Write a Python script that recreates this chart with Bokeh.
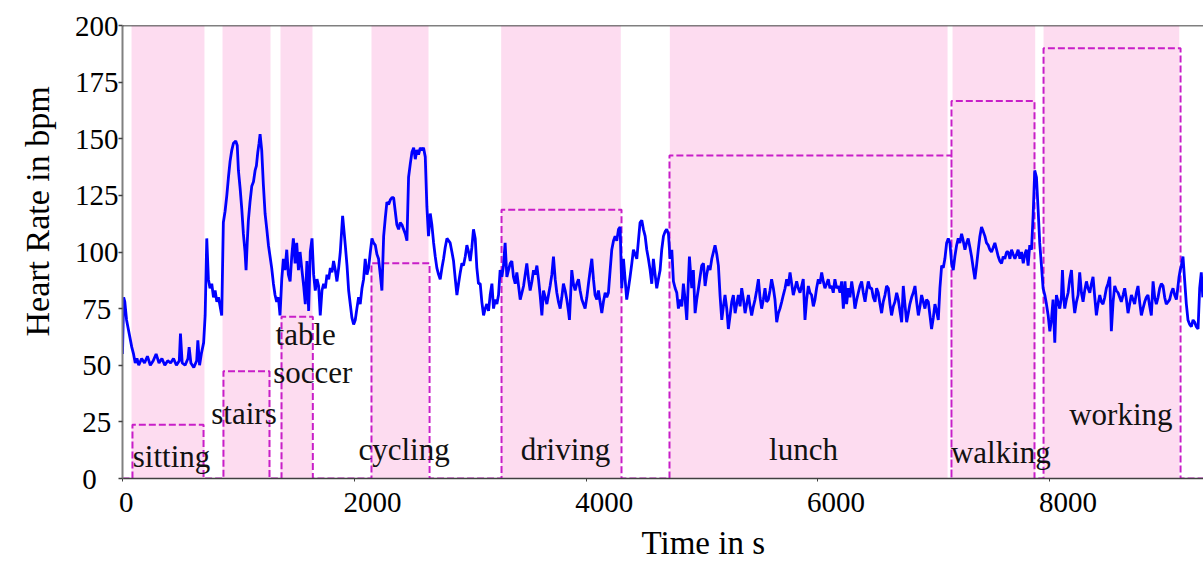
from bokeh.plotting import figure
from bokeh.models import Range1d, FixedTicker, Span, ColumnDataSource, Title
from bokeh.embed import file_html
from bokeh.resources import INLINE
from bokeh.core.properties import value

# ---------------- data ----------------
hr_time_a = [0, 10, 20, 35, 50, 65, 80, 95, 110, 125,
             140, 165, 190, 215, 240, 265, 290, 315, 340, 365,
             390, 415, 440, 465, 490, 500, 515, 540, 565, 575,
             590, 615, 640, 650, 665, 680,
             700, 713, 727, 741, 755, 770, 785, 799, 814, 828,
             842, 856, 870, 885, 900, 914, 928, 943, 957, 977,
             990, 1000, 1015, 1029, 1043, 1057, 1066, 1076, 1086, 1100,
             1115, 1130, 1144, 1155, 1167, 1178, 1187, 1201, 1215, 1230,
             1245, 1259, 1273, 1287, 1302, 1316, 1330, 1345, 1359, 1374,
             1388, 1402, 1417, 1431, 1446, 1460, 1474, 1489, 1503, 1518,
             1532]
hr_a = [55, 80, 78, 70, 66, 62, 58, 55, 51, 53,
        50, 53, 51, 54, 50, 52, 55, 51, 53, 50,
        52, 51, 53, 50, 52, 64, 51, 50, 53, 58,
        51, 49, 52, 61, 50, 55,
        60, 72, 106, 88, 84, 86, 80, 83, 78, 80,
        76, 72, 113, 118, 125, 133, 140, 145, 148, 149,
        147, 136, 128, 119, 108, 100, 92, 104, 114, 122,
        129, 131, 136, 138, 144, 148, 152, 145, 130, 117,
        110, 103, 98, 93, 86, 81, 78, 80, 72, 88,
        97, 92, 101, 90, 87, 98, 106, 95, 104, 92,
        100]

hr_time_b = [1548, 1563, 1577, 1591, 1606, 1620, 1635, 1649, 1663, 1678,
             1692, 1706, 1721, 1735, 1750, 1764, 1779, 1793, 1807, 1821,
             1836, 1850, 1865, 1879, 1899, 1922, 1937, 1951, 1965, 1979,
             1994, 2008, 2022, 2037, 2051, 2066, 2080, 2094, 2109, 2123,
             2138, 2152, 2166, 2181, 2195, 2209, 2224, 2238, 2253, 2267,
             2281, 2296, 2310, 2325, 2339, 2353, 2367, 2382, 2396, 2411,
             2425, 2440, 2454, 2468, 2483, 2497, 2512, 2526, 2540, 2554,
             2569, 2583, 2597, 2612, 2626, 2640, 2655, 2669, 2684, 2698,
             2712, 2727, 2741, 2756, 2770, 2784, 2799, 2813, 2827, 2842,
             2856, 2871, 2885, 2899, 2914, 2928, 2942, 2957, 2971, 2986,
             3000, 3014, 3028, 3043, 3057, 3071]
hr_b = [92, 85, 77, 96, 74, 100, 106, 90, 83, 88,
        85, 72, 83, 86, 84, 90, 88, 93, 91, 96,
        92, 87, 93, 100, 116, 103, 94, 83, 77, 71,
        68, 70, 75, 80, 77, 84, 88, 97, 90, 93,
        100, 106, 104, 103, 99, 97, 90, 83, 107, 115,
        122, 121, 123, 124, 124, 118, 112, 110, 113, 112,
        110, 108, 105, 133, 139, 144, 146, 141, 145, 143,
        146, 145, 146, 142, 120, 107, 117, 112, 104, 98,
        93, 90, 88, 93, 97, 102, 106, 105, 104, 100,
        96, 88, 81, 86, 91, 95, 94, 98, 103, 100,
        96, 102, 110, 106, 93, 86]

hr_time_c = [3086, 3100, 3115, 3129, 3143, 3158, 3172, 3187, 3201, 3215,
             3230, 3244, 3258, 3273, 3287, 3301, 3316, 3330, 3345, 3359,
             3373, 3388, 3402, 3417, 3431, 3446, 3460, 3474, 3488, 3503,
             3517, 3532, 3546, 3560, 3575, 3589, 3603, 3618, 3632, 3647,
             3661, 3675, 3689, 3704, 3718, 3733, 3747, 3761, 3776, 3790,
             3804, 3819, 3833, 3847, 3856, 3876, 3890, 3905, 3919, 3934,
             3948, 3963, 3977, 3991, 4006, 4020, 4035, 4049, 4063, 4077,
             4092, 4106, 4120, 4135, 4149, 4164, 4178, 4192, 4207, 4221,
             4236, 4250, 4264, 4279, 4293, 4307, 4322, 4336, 4350, 4365,
             4379, 4394, 4408, 4422, 4437, 4451, 4465, 4480, 4494, 4509,
             4523, 4537, 4552, 4566, 4580, 4595, 4609, 4623, 4638, 4652]
hr_c = [86, 78, 72, 75, 77, 74, 81, 86, 75, 79,
        77, 81, 92, 89, 94, 104, 89, 92, 95, 96,
        89, 86, 91, 85, 79, 82, 85, 90, 95, 88,
        83, 87, 92, 90, 94, 88, 81, 72, 83, 80,
        77, 81, 85, 90, 98, 88, 82, 78, 75, 80,
        86, 83, 79, 74, 70, 92, 86, 83, 86, 88,
        83, 79, 77, 75, 80, 86, 92, 97, 88, 81,
        79, 83, 78, 73, 78, 82, 80, 82, 92, 101,
        105, 107, 105, 110, 111, 84, 97, 88, 79, 84,
        89, 95, 101, 99, 97, 105, 113, 114, 110, 107,
        101, 97, 92, 86, 97, 90, 84, 88, 92, 101]

hr_time_d = [4667, 4681, 4695, 4710, 4724, 4739, 4753, 4768, 4782, 4796,
             4810, 4825, 4839, 4854, 4868, 4880, 4891, 4902, 4911, 4925,
             4940, 4954, 4969, 4983, 4997, 5012, 5026, 5040, 5055, 5069,
             5084, 5098, 5112, 5127, 5141, 5155, 5170, 5184, 5198, 5213,
             5227, 5242, 5256, 5270, 5285, 5299, 5313, 5328, 5342, 5357,
             5371, 5385, 5400, 5414, 5428, 5443, 5457, 5471, 5486, 5500,
             5514, 5529, 5543, 5557, 5572, 5586, 5600, 5615, 5629, 5644,
             5658, 5672, 5687, 5701, 5716, 5730, 5744, 5759, 5773, 5787,
             5802, 5816, 5830, 5845, 5859, 5873, 5888, 5902, 5917, 5931,
             5945, 5960, 5974, 5988, 6003, 6017, 6032, 6046, 6060, 6075,
             6089, 6103, 6118, 6132, 6146, 6161, 6175, 6190, 6204]
hr_d = [107, 109, 110, 108, 97, 101, 87, 84, 82, 75,
        79, 76, 86, 79, 70, 85, 98, 90, 84, 92,
        73, 79, 84, 89, 94, 95, 85, 90, 94, 92,
        97, 100, 103, 99, 94, 81, 70, 76, 81, 75,
        66, 72, 78, 81, 73, 77, 81, 76, 84, 79,
        73, 77, 81, 76, 72, 76, 79, 83, 88, 80,
        75, 79, 84, 78, 79, 83, 88, 84, 79, 69,
        73, 75, 78, 81, 84, 88, 85, 91, 86, 81,
        84, 87, 84, 82, 85, 88, 70, 79, 85, 82,
        81, 76, 79, 84, 88, 86, 91, 87, 84, 86,
        88, 84, 85, 82, 88, 84, 85, 82, 87]

hr_time_e = [6219, 6233, 6247, 6262, 6276, 6291, 6305, 6319, 6334, 6348,
             6362, 6377, 6391, 6406, 6420, 6434, 6449, 6463, 6477, 6492,
             6506, 6520, 6535, 6549, 6563, 6578, 6592, 6607, 6621, 6635,
             6650, 6664, 6679, 6693, 6707, 6722, 6736, 6750, 6765, 6779,
             6793, 6808, 6822, 6837, 6851, 6866, 6880, 6894, 6909, 6923,
             6937, 6952, 6966, 6980, 6995, 7009, 7023, 7038, 7052, 7067,
             7081, 7095, 7110, 7124, 7138, 7153, 7167, 7181, 7196, 7210,
             7224, 7239, 7253, 7268, 7282, 7296, 7311, 7325, 7339, 7354,
             7368, 7383, 7397, 7411, 7426, 7440, 7454, 7469, 7483, 7497,
             7512, 7526, 7541, 7555, 7569, 7584, 7598, 7612, 7627, 7641,
             7656, 7670, 7684, 7699, 7713, 7727, 7742, 7756, 7771]
hr_e = [75, 87, 77, 84, 80, 87, 82, 75, 79, 82,
        85, 87, 82, 78, 83, 87, 84, 84, 80, 78,
        84, 82, 77, 73, 78, 81, 85, 84, 77, 72,
        76, 78, 82, 79, 74, 69, 85, 77, 69, 73,
        77, 80, 82, 85, 78, 72, 76, 81, 78, 75,
        79, 78, 72, 66, 71, 77, 74, 70, 84, 94,
        93, 97, 104, 106, 104, 95, 92, 98, 103, 106,
        104, 108, 105, 101, 104, 106, 102, 98, 93, 88,
        94, 101, 107, 111, 109, 107, 104, 103, 101, 100,
        102, 104, 101, 98, 96, 95, 98, 97, 100, 100,
        97, 101, 99, 97, 99, 101, 97, 100, 95]

hr_time_f = [7785, 7798, 7813, 7827, 7842, 7856, 7870, 7885, 7899, 7913,
             7928, 7942, 7957, 7971, 7986, 8000, 8014, 8028, 8043, 8057,
             8071, 8086, 8100, 8109, 8120, 8129, 8143, 8158, 8172, 8187,
             8201, 8215, 8230, 8244, 8258, 8273, 8287, 8301, 8316, 8330,
             8345, 8359, 8373, 8388, 8402, 8416, 8431, 8445, 8459, 8474,
             8488, 8502, 8517, 8531, 8546, 8560, 8574, 8589, 8603, 8617,
             8632, 8646, 8661, 8675, 8689, 8704, 8718, 8732, 8747, 8761,
             8775, 8790, 8804, 8819, 8833, 8847, 8862, 8876, 8891, 8905,
             8919, 8934, 8948, 8962, 8977, 8991, 9005, 9020, 9034, 9048,
             9063, 9077, 9092, 9104, 9115, 9125, 9135, 9149, 9164, 9178,
             9192, 9207, 9221, 9236, 9250, 9264, 9279, 9293, 9307, 9320]
hr_f = [99, 101, 94, 103, 101, 116, 136, 133, 119, 104,
        94, 84, 81, 77, 72, 65, 70, 79, 60, 81,
        78, 75, 80, 92, 80, 75, 79, 82, 88, 92,
        80, 73, 78, 81, 91, 82, 78, 83, 87, 84,
        82, 86, 89, 80, 72, 77, 81, 78, 77, 80,
        84, 86, 89, 65, 78, 85, 83, 82, 80, 78,
        81, 84, 79, 73, 77, 81, 79, 77, 82, 85,
        78, 72, 75, 78, 80, 81, 76, 72, 87, 80,
        77, 80, 84, 86, 85, 80, 77, 78, 79, 82,
        84, 81, 79, 84, 89, 92, 94, 98, 87, 77,
        70, 68, 67, 70, 69, 67, 66, 84, 91, 80]

# activity shading (pink bands) and annotated boxes (dashed step)
band_start = [78, 863, 1363, 2148, 3267, 4722, 7161, 7946]
band_end = [707, 1277, 1639, 2640, 4299, 7118, 7874, 9117]
box_start = [86, 871, 1372, 2148, 3270, 4719, 7152, 7946]
box_end = [699, 1268, 1642, 2649, 4305, 7152, 7868, 9128]
box_height = [23.7, 47.3, 71.4, 95, 118.7, 142.6, 166.7, 190]

label_text = ["sitting", "stairs", "table", "soccer", "cycling",
              "driving", "lunch", "walking", "working"]
label_x = [423, 1048, 1580, 1641, 2429, 3822, 5875, 7578, 8613]
label_y = [9.5, 28.6, 63.4, 46.9, 12.9, 12.9, 12.9, 11.4, 28.2]

x_ticks = [0, 2000, 4000, 6000, 8000]
y_ticks = [0, 25, 50, 75, 100, 125, 150, 175, 200]
x_title = "Time in s"
y_title = "Heart Rate in bpm"

X_MAX = 9326
FONT = "Liberation Serif"

time_s = hr_time_a + hr_time_b + hr_time_c + hr_time_d + hr_time_e + hr_time_f
heart_rate = hr_a + hr_b + hr_c + hr_d + hr_e + hr_f

# ---------------- figure ----------------
p = figure(width=1203, height=562, x_range=Range1d(0, X_MAX), y_range=Range1d(0, 200),
           output_backend="svg", toolbar_location=None,
           min_border_left=122, min_border_right=0, min_border_top=25, min_border_bottom=82)
p.outline_line_color = None
p.grid.visible = False
p.background_fill_color = "white"
p.border_fill_color = "white"

# pink bands
p.quad(left=band_start, right=band_end, bottom=[0] * len(band_start), top=[200] * len(band_start),
       fill_color="#FDDCF0", line_color=None)

# dashed step outline
step_x = [0]
step_y = [0]
for s, e, h in zip(box_start, box_end, box_height):
    step_x += [s, s, e, e]
    step_y += [0, h, h, 0]
step_x.append(X_MAX)
step_y.append(0)
p.line(step_x, step_y, line_color="#C81EC8", line_width=2, line_dash="7 3")

# heart rate
p.line(time_s, heart_rate, line_color="#0000FF", line_width=2.8)

# activity labels
src = ColumnDataSource(dict(x=label_x, y=label_y, text=label_text))
p.text(x="x", y="y", text="text", source=src, text_font=value(FONT), text_font_size="31px",
       text_align="center", text_baseline="alphabetic", text_color="#111111")

# axes
p.xaxis.ticker = FixedTicker(ticks=x_ticks)
p.yaxis.ticker = FixedTicker(ticks=y_ticks)
EN, QS = "\u2002", "\u2005"
# pad labels so that they sit as in the reference (centred y labels, shifted x labels)
p.yaxis.major_label_overrides = {t: (str(t) + (EN + QS if t < 10 else QS if t < 100 else ""))
                                 for t in y_ticks}
p.xaxis.major_label_overrides = {t: ((QS if t == 0 else EN + EN + QS) + str(t)) for t in x_ticks}
p.axis.major_label_text_font = FONT
p.axis.major_label_text_font_size = "29px"
p.axis.major_label_text_color = "black"
p.yaxis.major_label_standoff = 0
p.xaxis.major_label_standoff = 4
p.axis.minor_tick_line_color = None
p.axis.major_tick_in = 0
p.xaxis.major_tick_out = 3
p.yaxis.major_tick_out = 4
p.yaxis.axis_line_color = "#808080"
p.yaxis.axis_line_width = 2
p.yaxis.major_tick_line_color = "#404040"
p.yaxis.major_tick_line_width = 1.5
p.xaxis.axis_line_color = "#404040"
p.xaxis.axis_line_width = 1.5
p.xaxis.major_tick_line_color = "#404040"

# top border line
p.add_layout(Span(location=200, dimension="width", line_color="black", line_width=1.5))

# axis titles
p.add_layout(Title(text=x_title, align="left", offset=519, text_font=FONT,
                   text_font_size="33px", text_font_style="normal", text_color="black",
                   standoff=4), "below")
p.add_layout(Title(text=y_title, align="left", offset=142, text_font=FONT,
                   text_font_size="34px", text_font_style="normal", text_color="black",
                   standoff=31), "left")

open("out.html", "w").write(file_html(p, INLINE))
